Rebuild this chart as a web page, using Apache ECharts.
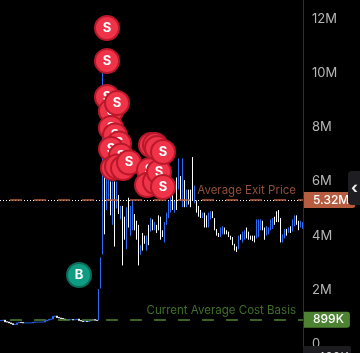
<!DOCTYPE html>
<html>
<head>
<meta charset="utf-8">
<style>
html, body { margin: 0; padding: 0; background: #000; }
#main { width: 360px; height: 353px; }
</style>
<script src="https://cdn.jsdelivr.net/npm/echarts@6/dist/echarts.min.js"></script>
</head>
<body>
<div id="main"></div>
<script>
// candle values in millions, left to right
const opens = [
  0.86,0.87,0.88,0.82,0.81,0.78,0.75,0.72,0.72,0.78,
  0.80,0.79,0.78,0.78,0.78,0.78,0.78,0.80,0.81,0.81,
  0.81,0.81,0.81,0.85,0.88,0.91,0.92,1.02,1.03,0.98,
  0.96,0.94,0.92,0.90,0.90,0.90,0.90,0.89,0.90,0.92,
  0.87,0.85,0.83,0.84,0.83,0.85,0.89,0.90,0.88,
  0.87,2.05,3.3,6.75,4.95,5.3,6.0,4.4,6.0,5.0,5.5,
  4.6,5.1,4.7,3.5,5.4,4.0,4.2,4.8,4.55,4.4,
  3.3,4.1,4.0,3.45,4.4,4.15,4.6,4.2,4.4,4.75,
  4.7,4.2,3.75,4.4,4.65,4.85,5.5,4.85,6.15,5.7,
  6.2,5.05,6.05,5.05,5.7,5.7,6.9,5.2,5.3,5.1,
  4.95,4.65,4.85,4.75,4.3,4.6,4.9,4.65,4.25,4.1,
  3.95,4.05,4.3,4.2,4.15,4.0,3.95,3.7,3.6,3.5,
  4.05,3.75,3.85,4.3,4.15,4.0,4.0,4.0,3.9,3.95,
  4.2,4.55,4.3,4.0,4.05,4.2,4.25,4.7,4.9,4.95,
  4.65,3.75,3.9,4.25,4.1,4.35,4.15,4.35,4.75,4.55,
  4.3,4.25
];
const closes = [
  0.87,0.88,0.82,0.81,0.78,0.75,0.72,0.72,0.78,0.80,
  0.79,0.78,0.78,0.78,0.78,0.78,0.80,0.81,0.81,0.81,
  0.81,0.81,0.85,0.88,0.91,0.92,1.02,1.03,0.98,0.96,
  0.94,0.92,0.90,0.90,0.90,0.90,0.89,0.90,0.92,0.87,
  0.85,0.83,0.84,0.83,0.85,0.89,0.90,0.88,0.87,
  2.03,3.2,6.3,4.05,6.6,6.2,4.75,6.0,3.6,6.0,4.8,
  5.1,2.9,3.85,5.05,4.3,5.1,5.3,4.2,3.85,2.9,
  3.65,3.45,3.7,4.0,3.65,4.65,4.2,4.5,4.1,4.2,
  3.85,3.95,4.5,4.85,5.3,5.8,4.95,5.3,4.95,6.85,
  5.3,6.85,5.05,5.7,5.15,5.05,5.3,5.85,4.85,4.7,
  4.65,4.85,4.3,4.3,4.85,4.9,4.65,4.2,4.0,3.95,
  4.3,4.35,4.05,4.05,3.95,3.85,3.65,3.45,3.4,4.0,
  3.85,4.15,4.2,3.9,3.85,3.85,3.8,3.75,4.6,4.6,
  4.6,4.2,3.85,4.35,4.3,4.6,4.65,4.4,4.5,4.5,
  3.75,4.05,4.25,4.0,4.3,4.1,4.6,4.75,4.4,4.2,
  4.55,4.5
];
// long upper wick on the breakout candle
const highWicks = { 51: 10.5 };
// candles before the breakout are nearly flat and need wider bodies to join up
const flatCount = 49;

const sellIndex = [53,53,53,55,55,57,59,55,60,56,58,61,58,64,75,77,78,74,73,77,79,81,81];
const sellValue = [11.67,10.45,9.12,8.6,7.98,7.7,7.4,7.2,6.95,6.5,6.55,6.5,8.9,6.7,7.35,7.35,7.24,6.42,5.87,5.98,6.35,7.09,5.8];
const buyIndex = [39];
const buyValue = [2.55];

const avgExitPrice = 5.32;
const avgCostBasis = 0.899;

const fontName = 'Inter, "Liberation Sans", sans-serif';
const categories = opens.map((v, i) => i);
const candleData = opens.map((o, i) => {
  const c = closes[i];
  const high = highWicks[i] !== undefined ? highWicks[i] : Math.max(o, c);
  return [o, c, Math.min(o, c), high];
});
const flatCandles = candleData.map((d, i) => (i < flatCount ? d : '-'));
const mainCandles = candleData.map((d, i) => (i < flatCount ? '-' : d));

const candleStyle = {
  color: '#2b6cf5',
  borderColor: '#2b6cf5',
  color0: '#fff',
  borderColor0: '#fff',
  borderWidth: 1
};

function tagLabel(text, bg) {
  return {
    show: true,
    position: 'end',
    distance: 0,
    formatter: text,
    color: '#fff',
    fontFamily: fontName,
    fontSize: 12,
    fontWeight: 500,
    backgroundColor: bg,
    padding: [2, 6, 2, 9],
    borderRadius: [0, 3, 3, 0]
  };
}
function nameLabel(text, color) {
  return {
    show: true,
    position: 'insideEndTop',
    distance: [8, 3],
    formatter: text,
    color: color,
    fontFamily: fontName,
    fontSize: 11.5
  };
}
// one series per badge, so a later badge covers the letter of an earlier one
function badge(x, y, text, fill, border, z) {
  return {
    type: 'scatter',
    z: z,
    clip: false,
    data: [[x, y]],
    symbolSize: 24,
    itemStyle: { color: fill, borderColor: border, borderWidth: 2, opacity: 1 },
    label: {
      show: true,
      position: 'inside',
      formatter: text,
      color: '#fff',
      fontFamily: fontName,
      fontSize: 13,
      fontWeight: 'bold'
    }
  };
}

const sellSeries = sellIndex.map((x, i) => badge(x, sellValue[i], 'S', '#ef3348', '#b9182a', 10 + i));
const buySeries = buyIndex.map((x, i) => badge(x, buyValue[i], 'B', '#0e9c82', '#0a6b58', 10));

const chart = echarts.init(document.getElementById('main'));
chart.setOption({
  animation: false,
  backgroundColor: '#000',
  grid: { left: 0, right: 56, top: 19, bottom: 9 },
  xAxis: {
    type: 'category',
    data: categories,
    show: false
  },
  yAxis: {
    type: 'value',
    position: 'right',
    min: 0,
    max: 12,
    interval: 2,
    splitLine: { show: false },
    axisLine: { show: false },
    axisTick: { show: false },
    axisLabel: {
      margin: 8,
      color: '#b5b5b5',
      fontFamily: fontName,
      fontSize: 13,
      formatter: v => (v === 0 ? '0' : v + 'M')
    }
  },
  series: [
    {
      type: 'candlestick',
      data: flatCandles,
      barWidth: 2,
      itemStyle: candleStyle
    },
    {
      type: 'candlestick',
      data: mainCandles,
      barWidth: 1,
      itemStyle: candleStyle,
      markLine: {
        silent: true,
        symbol: 'none',
        animation: false,
        data: [
          {
            yAxis: avgExitPrice,
            lineStyle: { color: '#fff', type: [1, 2], width: 1, opacity: 1 },
            label: { show: false }
          },
          {
            yAxis: avgExitPrice,
            lineStyle: { color: '#b65c40', type: [12, 12], dashOffset: 14, width: 1.5, opacity: 1 },
            label: nameLabel('Average Exit Price', '#8f4e38')
          },
          {
            yAxis: avgExitPrice,
            lineStyle: { color: 'transparent', opacity: 1 },
            label: tagLabel('5.32M', '#b65c40')
          },
          {
            yAxis: avgCostBasis,
            lineStyle: { color: '#4d8233', type: [12, 12], dashOffset: 14, width: 1.5, opacity: 1 },
            label: nameLabel('Current Average Cost Basis', '#3f7029')
          },
          {
            yAxis: avgCostBasis,
            lineStyle: { color: 'transparent', opacity: 1 },
            label: tagLabel('899K', '#4d8233')
          }
        ]
      }
    }
  ].concat(sellSeries, buySeries),
  graphic: [
    { type: 'rect', z: 50, shape: { x: 303, y: 0, width: 1, height: 353 }, style: { fill: '#2e2e32' } },
    { type: 'rect', z: 50, shape: { x: 303, y: 346, width: 48, height: 12, r: 2 }, style: { fill: '#1c1c20' } },
    { type: 'text', z: 51, x: 312, y: 351, style: { text: '-400K', fill: '#ddd', font: '12px ' + fontName } },
    { type: 'rect', z: 50, shape: { x: 348, y: 171, width: 16, height: 34, r: 4 }, style: { fill: '#1e1e22' } },
    { type: 'text', z: 51, x: 351, y: 180, style: { text: '‹', fill: '#eee', font: 'bold 16px ' + fontName } }
  ]
});
</script>
</body>
</html>
